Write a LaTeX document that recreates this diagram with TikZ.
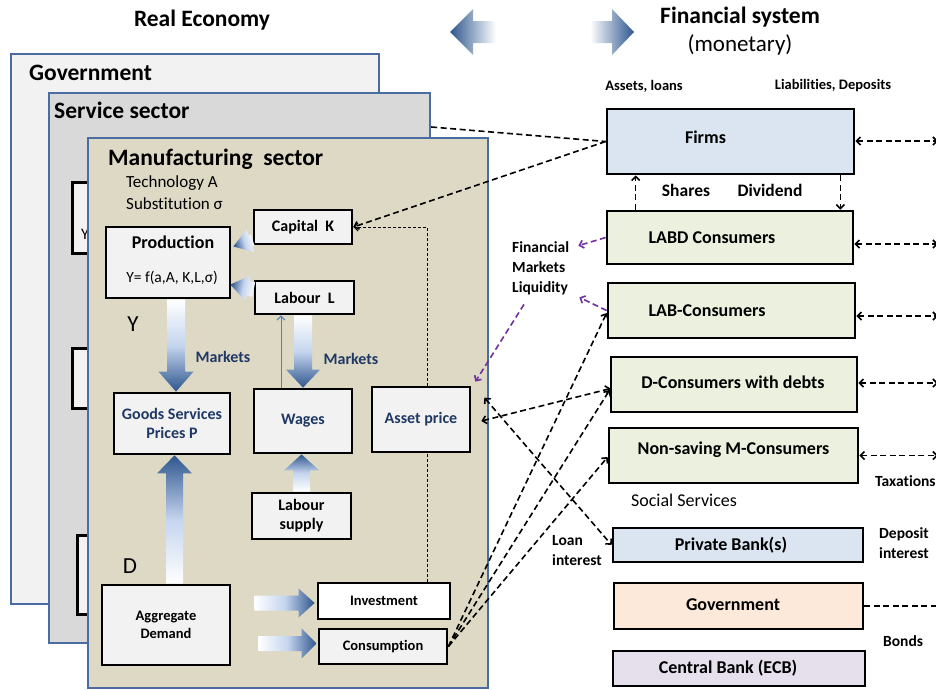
\documentclass[tikz,border=0pt]{standalone}
\usepackage{fontspec}
\setmainfont[Ligatures=NoCommon]{Carlito}
\usetikzlibrary{calc,arrows.meta,positioning}

\definecolor{frameblue}{RGB}{74,108,160}
\definecolor{govfill}{RGB}{242,242,242}
\definecolor{servfill}{RGB}{217,217,217}
\definecolor{manfill}{RGB}{221,217,196}
\definecolor{boxgrey}{RGB}{242,242,242}
\definecolor{arrowdark}{RGB}{46,86,142}
\definecolor{arrowlight}{RGB}{197,213,238}
\definecolor{textblue}{RGB}{31,56,100}
\definecolor{mpurple}{RGB}{112,48,160}
\definecolor{thinblue}{RGB}{79,129,189}
\definecolor{firmfill}{RGB}{219,229,241}
\definecolor{consfill}{RGB}{235,241,222}
\definecolor{bondfill}{RGB}{253,233,217}
\definecolor{ecbfill}{RGB}{229,224,236}

% fat shaded arrow: tail, tip, half body, half head, head length, shading
\newcommand{\fatarrow}[6]{%
  \coordinate (fa-h) at ($(#2)!#5!(#1)$);
  \shade[#6] ($(#1)!#3!90:(#2)$) -- ($(fa-h)!#3!90:(#2)$) -- ($(fa-h)!#4!90:(#2)$)
    -- (#2) -- ($(fa-h)!#4!-90:(#2)$) -- ($(fa-h)!#3!-90:(#2)$) -- ($(#1)!#3!-90:(#2)$) -- cycle;
}

\begin{document}
\begin{tikzpicture}[x=1pt, y=-1pt, >={Straight Barb[length=4pt,width=8pt]},
  head/.style={font=\bfseries\fontsize{23.5}{28}\selectfont, inner sep=0pt},
  sector/.style={draw=frameblue, line width=2.2pt, anchor=north west, inner sep=0pt},
  box/.style={draw, line width=2.7pt, fill=boxgrey, align=center, inner sep=1pt,
    font=\bfseries\fontsize{16}{19}\selectfont},
  smallbox/.style={box, font=\bfseries\fontsize{14.5}{18}\selectfont},
  bluebox/.style={box, text=textblue},
  fbox/.style={draw, line width=2.7pt, inner sep=0pt},
  ftxt/.style={font=\bfseries\fontsize{18}{21}\selectfont, inner sep=0pt},
  small/.style={font=\bfseries\fontsize{14.5}{18}\selectfont, inner sep=0pt},
  lbl/.style={font=\bfseries\fontsize{15.5}{20}\selectfont, align=left, inner sep=0pt},
  txt/.style={font=\fontsize{17}{20}\selectfont, inner sep=0pt},
  big/.style={font=\fontsize{23}{27}\selectfont, inner sep=0pt},
  fin/.style={line width=1.6pt, dash pattern=on 6pt off 3.5pt},
  fine/.style={line width=1pt, dash pattern=on 3pt off 2pt},
  purp/.style={fin, draw=mpurple},
  vdown/.style={top color=white, bottom color=arrowdark, middle color=arrowlight},
  vup/.style={top color=arrowdark, bottom color=white, middle color=arrowlight},
  hright/.style={left color=white, right color=arrowdark, middle color=arrowlight}]

\useasboundingbox (0,0) rectangle (936,689);

%%%%%%%%%%%% Headings
\node[head] (real) at (202,20) {Real Economy};
\node[head] (finsys) at (740,17) {Financial system};
\node[big] (monet) at (740,45) {(monetary)};
\coordinate (la1) at (496,32); \coordinate (la2) at (450,32);
\coordinate (ra1) at (590,32); \coordinate (ra2) at (634,32);
\fatarrow{la1}{la2}{11pt}{23pt}{23pt}{left color=arrowdark, right color=white}
\fatarrow{ra1}{ra2}{11pt}{23pt}{22pt}{left color=white, right color=arrowdark}

%%%%%%%%%%%% Sectors
\node[sector, fill=govfill, minimum width=368pt, minimum height=550pt] (gov) at (10,53) {};
\node[head, anchor=west] at ($(gov.north west)+(19,20)$) {Government};
\node[sector, fill=servfill, minimum width=381pt, minimum height=550pt] (serv) at (48,92) {};
\node[head, anchor=west] at ($(serv.north west)+(6,18)$) {Service sector};
\node[box, anchor=north west, minimum width=100pt, minimum height=71pt] (sb1) at (71,181) {};
\node[font=\fontsize{16}{19}\selectfont, anchor=west, inner sep=0pt] at ($(sb1.west)+(10,16.5)$) {Y};
\node[box, anchor=north west, minimum width=100pt, minimum height=60pt] (sb2) at (71,347) {};
\node[box, anchor=north west, minimum width=100pt, minimum height=79pt] (sb3) at (76,534) {};
\node[sector, fill=manfill, minimum width=400pt, minimum height=550pt] (manu) at (87,137) {};
\node[head, anchor=west] at ($(manu.north west)+(21,22)$) {Manufacturing\ \ sector};
\node[txt, anchor=west] at ($(manu.north west)+(39,46)$) {Technology A};
\node[txt, anchor=west] at ($(manu.north west)+(39,67)$) {Substitution σ};

%%%%%%%%%%%% Manufacturing boxes
\node[box, minimum width=124pt, minimum height=71pt] (prod) at (168,262.5) {};
\node[ftxt] at ($(prod.north)+(5,17)$) {Production};
\node[font=\fontsize{15.5}{18}\selectfont, inner sep=0pt] at ($(prod.south)+(4,-21)$) {Y= f(a,A, K,L,σ)};
\node[box, minimum width=98pt, minimum height=34pt] (cap) at (303,227) {Capital\ \ K};
\node[box, minimum width=99pt, minimum height=33pt] (lab) at (304.5,297.5) {Labour\ \ L};
\node[bluebox, minimum width=116pt, minimum height=61pt] (goods) at (172,423.5) {Goods Services\\Prices P};
\node[bluebox, minimum width=98pt, minimum height=64pt] (wages) at (303,421) {Wages};
\node[bluebox, minimum width=98pt, minimum height=65pt] (asset) at (421,419.5) {Asset price};
\node[box, minimum width=99pt, minimum height=46pt] (lsup) at (301.5,516) {Labour\\supply};
\node[smallbox, minimum width=128pt, minimum height=80pt] (ad) at (166,625) {Aggregate\\Demand};
\node[smallbox, fill=white, minimum width=132pt, minimum height=36pt] (inv) at (384,601) {Investment};
\node[smallbox, minimum width=128pt, minimum height=35pt] (cons) at (383,646.5) {Consumption};
\node[big] (ylab) at (133,324) {Y};
\node[big] (dlab) at (130,566) {D};
\node[font=\bfseries\fontsize{16}{19}\selectfont, text=textblue] (mk1) at (223,357) {Markets};
\node[font=\bfseries\fontsize{16}{19}\selectfont, text=textblue] (mk2) at (351,359) {Markets};

%%%%%%%%%%%% Fat arrows
\coordinate (pg1) at ($(prod.south)+(8,0)$);  \coordinate (pg2) at (pg1 |- goods.north);
\coordinate (lw1) at (wages.north |- lab.south); \coordinate (lw2) at (wages.north);
\coordinate (ag1) at ($(ad.north)+(8.5,0)$);  \coordinate (ag2) at (ag1 |- goods.south);
\coordinate (sw1) at (lsup.north);             \coordinate (sw2) at (lsup.north |- wages.south);
\coordinate (ai1) at ($(inv.west)+(-62,2)$);   \coordinate (ai2) at ($(inv.west)+(-2,2)$);
\coordinate (ac1) at ($(cons.west)+(-59,-3)$); \coordinate (ac2) at ($(cons.west)+(-1,-3)$);
\coordinate (cp1) at ($(cap.west)+(0,13)$);    \coordinate (cp2) at ($(prod.east)+(2,-16)$);
\coordinate (lp1) at ($(lab.west)+(0,-8)$);    \coordinate (lp2) at ($(prod.east)+(-1,22)$);
\fatarrow{pg1}{pg2}{9pt}{17.5pt}{20pt}{vdown}
\fatarrow{lw1}{lw2}{9pt}{17pt}{18pt}{vdown}
\fatarrow{ag1}{ag2}{8.5pt}{17.5pt}{18pt}{vup}
\fatarrow{sw1}{sw2}{8.5pt}{17.5pt}{16pt}{vup}
\fatarrow{ai1}{ai2}{7.5pt}{14.5pt}{16pt}{hright}
\fatarrow{ac1}{ac2}{7.5pt}{15pt}{15pt}{hright}
\fatarrow{cp1}{cp2}{6pt}{12pt}{18pt}{top color=arrowdark, bottom color=white, middle color=arrowlight, shading angle=106}
\fatarrow{lp1}{lp2}{7.5pt}{13pt}{18pt}{top color=arrowdark, bottom color=white, middle color=arrowlight, shading angle=79}

\draw[thinblue, line width=1pt, ->] ($(wages.north)+(-22,0)$) -- ($(lab.south)+(-23.5,0)$);
\draw[fine,->] ($(asset.north)+(6,0)$) |- (cap.east);
\draw[fine] ($(inv.north)+(43,0)$) -- ($(asset.south)+(6,0)$);

%%%%%%%%%%%% Financial system
\node[fbox, fill=firmfill, minimum width=247pt, minimum height=65pt,
  label={[ftxt,xshift=-25pt,yshift=4pt]center:Firms}] (firms) at (730.5,141.5) {};
\node[fbox, fill=consfill, minimum width=246pt, minimum height=53pt,
  label={[ftxt,xshift=-18pt]center:LABD Consumers}] (labdc) at (730,237.5) {};
\node[fbox, fill=consfill, minimum width=247pt, minimum height=55pt,
  label={[ftxt,xshift=-24.5pt]center:LAB-Consumers}] (labc) at (731.5,310.5) {};
\node[fbox, fill=consfill, minimum width=246pt, minimum height=55pt,
  label={[ftxt,xshift=-1pt,yshift=2.5pt]center:D-Consumers with debts}] (dcons) at (734,384.5) {};
\node[fbox, fill=consfill, minimum width=249pt, minimum height=55pt,
  label={[ftxt,yshift=5.5pt]center:Non-saving M-Consumers}] (nscons) at (733.5,455.5) {};
\node[fbox, fill=firmfill, minimum width=250pt, minimum height=34pt,
  label={[ftxt,xshift=-7pt]center:Private Bank(s)}] (privb) at (738,545) {};
\node[fbox, fill=bondfill, minimum width=249pt, minimum height=46pt,
  label={[ftxt,xshift=-5.5pt,yshift=1pt]center:Government}] (gov2) at (738.5,606) {};
\node[fbox, fill=ecbfill, minimum width=252pt, minimum height=35pt,
  label={[ftxt,xshift=-11pt]center:Central Bank (ECB)}] (ecb) at (739,668.5) {};

\node[small] (assets) at (644,86) {Assets, loans};
\node[small] (liab) at (833,86) {Liabilities, Deposits};
\node[font=\bfseries\fontsize{17.5}{21}\selectfont] (shares) at (686,190) {Shares};
\node[font=\bfseries\fontsize{17.5}{21}\selectfont] (divid) at (770,190) {Dividend};
\node[lbl, anchor=west] (fml) at (512,268.5) {Financial\\Markets\\Liquidity};
\node[font=\fontsize{18}{21}\selectfont] (social) at (684,500) {Social Services};
\node[lbl, anchor=west] (loan) at (552,550.5) {Loan\\interest};
\node[lbl, anchor=west] (tax) at (875,481) {Taxations};
\node[lbl, anchor=west] (dep) at (879,543.5) {Deposit\\interest};
\node[lbl, anchor=west] (bonds) at (883,641) {Bonds};

%%%%%%%%%%%% Connectors
\coordinate (edge) at (938,0);
\draw[fin] ($(serv.north east)+(0,35)$) -- (firms.west);
\draw[fin,->] (firms.west) -- (cap.east);
\draw[fin,->] ($(labdc.north west)+(30,0)$) -- ($(firms.south west)+(30,0)$);
\draw[fin,->] ($(firms.south east)+(-15,0)$) -- ($(labdc.north east)+(-14,0)$);
\foreach \n/\dy in {firms/0.5, labdc/-6.5, labc/-5.5, dcons/1.5, nscons/0}
  \draw[fin,<->] ([yshift=\dy pt]\n.east) -- ([yshift=\dy pt]\n.east -| edge);
\draw[fin] (gov2.east) -- (gov2.east -| edge);

\draw[purp,->] (labdc.west) -- ($(fml.north east)+(9,4)$);
\draw[purp,->] (labc.west) -- ($(fml.south east)+(10,2)$);
\draw[purp,->] ($(fml.south west)+(12,9)$) -- ($(asset.north east)+(4,-4)$);

\draw[fin,<->] ($(asset.east)+(10,1.5)$) -- ($(dcons.west)+(1,4)$);
\draw[fin,<->] ($(asset.north east)+(13,12)$) -- (privb.west);
\foreach \n/\dy in {labc/2.5, dcons/5.5, nscons/1.5}
  \draw[fin,->] (cons.east) -- ($(\n.west)+(0,\dy)$);
\end{tikzpicture}
\end{document}
